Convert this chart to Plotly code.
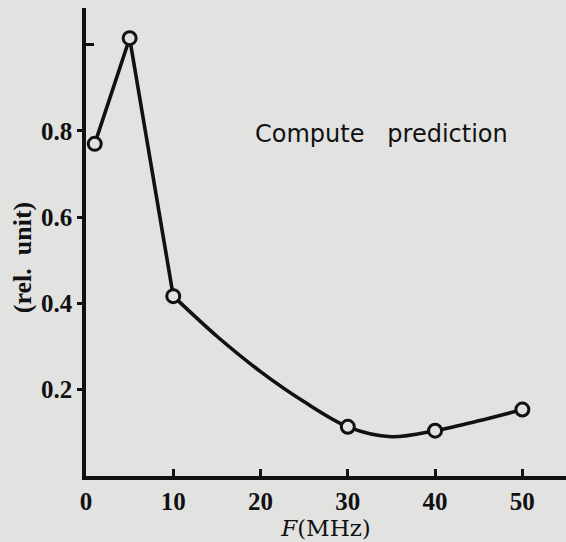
import plotly.graph_objects as go

# Data
F_pts = [1, 5, 10, 30, 40, 50]
val_pts = [0.77, 1.015, 0.417, 0.114, 0.105, 0.154]

curve_left_F = [1, 5, 10]
curve_left_val = [0.77, 1.015, 0.417]

curve_right_F = [10, 15, 20, 25, 30, 35, 40, 45, 50]
curve_right_val = [0.417, 0.324, 0.242, 0.172, 0.114, 0.091, 0.105, 0.128, 0.154]

x_ticks = [0, 10, 20, 30, 40, 50]
y_ticks = [0.2, 0.4, 0.6, 0.8]
y_ticklabels = ["0.2", "0.4", "0.6", "0.8"]

BG = "#e2e2e0"
INK = "#111111"

fig = go.Figure()
fig.add_trace(go.Scatter(x=curve_left_F, y=curve_left_val, mode="lines",
                         line=dict(color=INK, width=3.6), hoverinfo="skip", showlegend=False))
fig.add_trace(go.Scatter(x=curve_right_F, y=curve_right_val, mode="lines",
                         line=dict(color=INK, width=3.6, shape="spline", smoothing=0.9),
                         hoverinfo="skip", showlegend=False))
fig.add_trace(go.Scatter(x=F_pts, y=val_pts, mode="markers",
                         marker=dict(symbol="circle", size=13, color=BG,
                                     line=dict(color=INK, width=3)),
                         showlegend=False))

fig.update_layout(
    width=566, height=542,
    margin=dict(l=86, r=0, t=8, b=66),
    paper_bgcolor=BG, plot_bgcolor=BG,
    showlegend=False,
    xaxis=dict(range=[0, 55], tickvals=x_ticks, ticktext=[str(v) for v in x_ticks],
               ticks="inside", ticklen=7, tickwidth=2.5, tickcolor=INK,
               showline=True, linecolor=INK, linewidth=3.5, showgrid=False, zeroline=False,
               tickfont=dict(family="Liberation Serif", size=25, color=INK, weight="bold"),
               title=dict(text="<i>F</i>(MHz)", standoff=4,
                          font=dict(family="DejaVu Serif", size=23, color=INK))),
    yaxis=dict(range=[0, 1.085], tickvals=y_ticks, ticktext=y_ticklabels,
               ticks="outside", ticklen=5, tickwidth=2.5, tickcolor=INK,
               minor=dict(tickvals=[1.0], ticks="inside", ticklen=8, tickwidth=2.5, tickcolor=INK),
               showline=True, linecolor=INK, linewidth=3.5, showgrid=False, zeroline=False,
               tickfont=dict(family="Liberation Serif", size=25, color=INK, weight="bold")),
    annotations=[
        dict(text="(rel.\u00a0 unit)", textangle=-90, xref="paper", yref="y",
             x=(22 - 86) / 480, y=0.505, xanchor="center", yanchor="middle", showarrow=False,
             font=dict(family="Liberation Serif", size=26, color=INK, weight="bold")),
        dict(text="Compute\u00a0\u00a0\u00a0prediction", xref="paper", yref="paper",
             x=(253 - 86) / 480, y=(476 - 134) / 468, xanchor="left", yanchor="middle",
             showarrow=False,
             font=dict(family="DejaVu Sans", size=24, color=INK)),
    ],
)

fig.write_html("out.html")
